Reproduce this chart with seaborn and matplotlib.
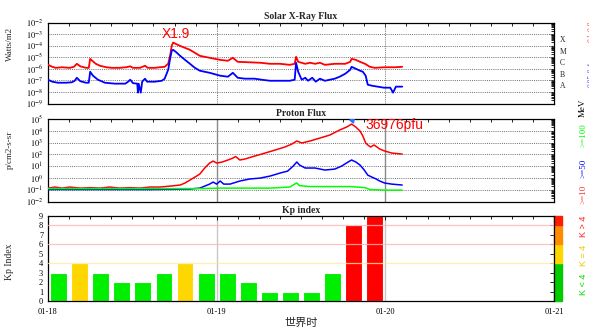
import numpy as np
import pandas as pd
import matplotlib
matplotlib.use("Agg")
import matplotlib.pyplot as plt
import seaborn as sns
from matplotlib.ticker import FixedLocator, LogLocator, NullFormatter, MultipleLocator, FuncFormatter
from matplotlib.transforms import Bbox, TransformedBbox, blended_transform_factory
from matplotlib.patches import Rectangle

# ---------------- data (hours since 01-18 00:00 UT) ----------------
xray_long_hours = [0.0, 0.6, 1.1, 2.0, 3.1, 3.7, 4.1, 4.6, 5.4, 5.8, 6.0, 6.3, 6.8, 7.4, 8.3, 9.1, 10.2, 11.1,
                   11.7, 12.1, 13.1, 13.8, 14.2, 15.2, 15.9, 16.6, 17.1, 17.4, 17.6, 17.8, 18.2, 18.8, 19.5,
                   20.2, 20.9, 21.6, 23.0, 24.5, 25.6, 26.3, 27.0, 28.7, 30.2, 31.6, 33.0, 34.4, 35.1, 35.3,
                   35.6, 36.6, 37.3, 38.0, 38.7, 39.4, 40.8, 42.3, 43.0, 43.2, 43.8, 44.4, 45.1, 45.8, 46.5,
                   47.9, 49.4, 50.4]
xray_long_log = [-5.65, -5.82, -5.91, -5.86, -5.91, -5.82, -5.56, -5.78, -5.91, -5.91, -5.13, -5.30, -5.56,
                 -5.73, -5.86, -5.91, -5.91, -5.86, -5.78, -5.91, -5.91, -5.73, -5.91, -5.91, -5.86, -5.82,
                 -5.56, -4.78, -4.01, -3.72, -3.84, -4.01, -4.18, -4.35, -4.61, -4.87, -5.04, -5.22, -5.30,
                 -5.04, -5.39, -5.43, -5.47, -5.56, -5.56, -5.65, -5.56, -4.96, -5.39, -5.56, -5.47, -5.56,
                 -5.47, -5.65, -5.56, -5.56, -5.39, -5.13, -5.22, -5.39, -5.56, -5.82, -5.91, -5.86, -5.86,
                 -5.82]

xray_short_hours = [0.0, 0.6, 1.4, 2.6, 3.4, 3.8, 4.1, 4.6, 5.4, 5.8, 6.0, 6.4, 7.1, 8.1, 9.5, 11.0, 11.4,
                    11.7, 12.1, 12.7, 12.8, 12.9, 13.2, 13.4, 13.8, 14.1, 15.2, 16.2, 16.6, 17.1, 17.4, 17.6,
                    17.8, 18.2, 18.8, 19.5, 20.2, 20.9, 21.6, 23.0, 24.5, 25.6, 26.3, 27.0, 28.0, 29.4, 30.4,
                    31.6, 33.0, 34.4, 35.1, 35.3, 35.6, 36.1, 36.6, 37.0, 37.6, 38.1, 38.7, 39.4, 40.1, 40.8,
                    41.5, 42.3, 43.0, 43.2, 43.8, 44.4, 44.8, 45.2, 45.5, 46.1, 46.9, 47.8, 48.7, 49.1, 49.5,
                    50.4]
xray_short_log = [-6.94, -7.11, -7.20, -7.20, -7.16, -7.03, -6.77, -7.07, -7.20, -7.20, -6.25, -6.59, -6.94,
                  -7.20, -7.28, -7.28, -7.11, -6.94, -7.24, -7.28, -8.06, -7.28, -8.06, -7.11, -6.85, -7.11,
                  -7.11, -7.03, -6.85, -6.08, -5.04, -4.44, -4.35, -4.53, -4.87, -5.22, -5.56, -5.91, -6.16,
                  -6.34, -6.59, -6.68, -6.34, -6.77, -6.85, -6.85, -6.94, -7.03, -7.03, -7.03, -6.94, -5.47,
                  -6.25, -6.94, -6.77, -7.03, -6.77, -7.11, -6.85, -7.03, -6.94, -6.85, -6.68, -6.42, -6.08,
                  -5.82, -5.99, -6.16, -6.25, -6.59, -7.37, -7.46, -7.54, -7.63, -7.63, -8.06, -7.54, -7.54]

p10_hours = [0.0, 1.0, 2.0, 3.1, 4.6, 6.0, 7.4, 8.8, 10.2, 11.7, 13.1, 14.5, 15.9, 17.4, 18.8, 19.5, 20.2,
             20.9, 21.6, 22.3, 23.0, 23.5, 24.0, 24.8, 25.6, 26.3, 26.7, 27.3, 28.0, 29.4, 30.9, 32.3, 33.7,
             34.7, 35.4, 36.1, 37.3, 38.7, 40.1, 41.5, 42.5, 43.2, 43.8, 44.4, 44.8, 45.2, 45.5, 45.9, 46.4,
             46.8, 47.2, 47.9, 48.9, 50.4]
p10_log = [-0.85, -0.76, -0.85, -0.76, -0.85, -0.81, -0.85, -0.76, -0.85, -0.81, -0.85, -0.76, -0.76, -0.68,
           -0.59, -0.42, -0.17, 0.08, 0.34, 0.85, 1.27, 1.44, 1.27, 1.36, 1.53, 1.69, 1.82, 1.53, 1.61, 1.86,
           2.12, 2.37, 2.63, 2.88, 3.14, 2.97, 3.14, 3.39, 3.64, 4.07, 4.32, 4.568, 4.32, 3.98, 3.56, 2.97,
           2.80, 2.63, 2.80, 2.63, 2.46, 2.29, 2.12, 2.03]

p50_hours = [0.0, 7.4, 14.5, 20.2, 21.6, 22.3, 23.0, 23.5, 24.0, 24.5, 25.0, 25.9, 27.3, 28.7, 30.2, 31.6,
             33.0, 34.1, 34.9, 35.4, 35.8, 36.6, 38.0, 39.4, 40.8, 41.8, 42.7, 43.2, 43.8, 44.4, 45.0, 45.5,
             46.1, 46.7, 47.2, 47.9, 48.9, 50.4]
p50_log = [-0.97, -0.97, -0.97, -0.93, -0.85, -0.68, -0.51, -0.34, -0.51, -0.25, -0.51, -0.51, -0.25, -0.08,
           0.0, 0.17, 0.42, 0.59, 1.02, 1.36, 1.10, 0.85, 0.85, 0.68, 0.76, 1.02, 1.36, 1.53, 1.36, 1.10,
           0.68, 0.25, 0.08, -0.08, -0.25, -0.42, -0.51, -0.59]

p100_hours = [0.0, 4.6, 10.2, 15.9, 21.6, 24.5, 27.3, 31.6, 34.4, 35.1, 35.4, 35.8, 37.3, 40.1, 43.0, 45.1,
              45.8, 47.9, 50.4]
p100_log = [-0.89, -0.89, -0.89, -0.89, -0.89, -0.85, -0.85, -0.85, -0.76, -0.51, -0.42, -0.64, -0.72,
            -0.72, -0.72, -0.81, -0.97, -1.02, -1.02]

kp_hours = [1.5, 4.5, 7.5, 10.5, 13.5, 16.5, 19.5, 22.5, 25.5, 28.5, 31.5, 34.5, 37.5, 40.5, 43.5, 46.5]
kp_values = [3, 4, 3, 2, 2, 3, 4, 3, 3, 2, 1, 1, 1, 3, 8, 9]

day_ticks = [0, 24, 48, 72]
day_labels = ["01-18", "01-19", "01-20", "01-21"]
xray_classes = ["X", "M", "C", "B", "A"]
xray_class_levels = [-3.5, -4.5, -5.5, -6.5, -7.5]
xray_peak_label = "X1.9"
proton_peak_label = "36976pfu"

# ---------------- style ----------------
sns.set_style("white")
plt.rcParams['font.family'] = ['Liberation Serif', 'Noto Sans CJK SC', 'DejaVu Sans']
plt.rcParams['mathtext.fontset'] = 'stix'

fig = plt.figure(figsize=(6.05, 3.32), dpi=100)
FW, FH = 605.0, 332.0
L, W = 48 / FW, 506 / FW


def box(top, bot):
    return [L, 1 - bot / FH, W, (bot - top) / FH]


ax1 = fig.add_axes(box(22.7, 103.5))
ax2 = fig.add_axes(box(119, 201.7))
ax3 = fig.add_axes(box(216, 301))

RED, BLUE, GREEN = "#FF0000", "#0000FF", "#00FF00"


def common(ax):
    ax.set_xlim(0, 72)
    ax.xaxis.set_major_locator(FixedLocator(day_ticks))
    ax.xaxis.set_minor_locator(MultipleLocator(3))
    ax.tick_params(which='both', direction='in', top=True, right=True, width=0.6, labelsize=6, colors='black')
    ax.tick_params(which='major', length=3)
    ax.tick_params(which='minor', length=2)
    for s in ax.spines.values():
        s.set_color('black')
        s.set_linewidth(0.9)
    ax.set_xlabel("")
    ax.set_ylabel("")


def logfmt(v, pos):
    return r"$10^{%d}$" % int(round(np.log10(v)))


# ---------------- X-ray panel ----------------
ax1.set_yscale('log')
xr_l = pd.DataFrame({"h": xray_long_hours, "flux": np.power(10.0, xray_long_log)})
xr_s = pd.DataFrame({"h": xray_short_hours, "flux": np.power(10.0, xray_short_log)})
sns.lineplot(data=xr_l, x="h", y="flux", color=RED, lw=1.3, ax=ax1, zorder=3)
sns.lineplot(data=xr_s, x="h", y="flux", color=BLUE, lw=1.3, ax=ax1, zorder=3)
ax1.set_ylim(1e-9, 1e-2)
common(ax1)
ax1.yaxis.set_major_locator(FixedLocator([10.0 ** k for k in range(-9, -1)]))
ax1.yaxis.set_major_formatter(FuncFormatter(logfmt))
ax1.yaxis.set_minor_locator(LogLocator(base=10, subs=np.arange(2, 10), numticks=50))
ax1.yaxis.set_minor_formatter(NullFormatter())
ax1.set_xticklabels([])
for k in range(-8, -2):
    ax1.axhline(10.0 ** k, color='#707070', lw=0.7, ls=(0, (1, 1.2)), zorder=1)
for d in [24, 48]:
    ax1.axvline(d, color='#707070', lw=0.7, ls=(0, (1, 1.2)), zorder=1)
ax1.set_title("Solar X-Ray Flux", fontsize=7, fontweight='bold', pad=2.5)
trans1 = blended_transform_factory(ax1.transAxes, ax1.transData)
for c, lv in zip(xray_classes, xray_class_levels):
    ax1.text(1.012, 10.0 ** lv, c, transform=trans1, fontsize=5.5, va='center', ha='left')
pk = int(np.argmax(xray_long_log))
ax1.text(xray_long_hours[pk] - 1.6, 10.0 ** (xray_long_log[pk] + 0.75), xray_peak_label,
         color=RED, fontsize=10, family=['Liberation Sans'], ha='left', va='center')
fig.text(10 / FW, 1 - 44 / FH, "Watts/m2", rotation=90, fontsize=6.5, ha='center', va='center')

# clipped right-edge wavelength labels (mostly cut off in the reference)
clip = TransformedBbox(Bbox([[0, 0], [588.5 / FW, 1]]), fig.transFigure)
for txt, col, yc in [("0.1-0.8nm", "#FF5050", 26), ("0.05-0.4nm", "#5050FF", 69)]:
    t = fig.text(591.5 / FW, 1 - yc / FH, txt, rotation=90, color=col, fontsize=5.5, ha='center', va='center')
    t.set_clip_box(clip)
    t.set_clip_on(True)

# ---------------- Proton panel ----------------
ax2.set_yscale('log')
for hrs, lg, col in [(p10_hours, p10_log, RED), (p50_hours, p50_log, BLUE), (p100_hours, p100_log, GREEN)]:
    df = pd.DataFrame({"h": hrs, "flux": np.power(10.0, lg)})
    sns.lineplot(data=df, x="h", y="flux", color=col, lw=1.1, ax=ax2, zorder=3)
ax2.set_ylim(1e-2, 1e5)
common(ax2)
ax2.yaxis.set_major_locator(FixedLocator([10.0 ** k for k in range(-2, 6)]))
ax2.yaxis.set_major_formatter(FuncFormatter(logfmt))
ax2.yaxis.set_minor_locator(LogLocator(base=10, subs=np.arange(2, 10), numticks=50))
ax2.yaxis.set_minor_formatter(NullFormatter())
ax2.set_xticklabels([])
for k in range(-1, 5):
    ax2.axhline(10.0 ** k, color='#707070', lw=0.7, ls=(0, (1, 1.2)), zorder=1)
for d in [24, 48]:
    ax2.axvline(d, color='#8a8a8a', lw=1.0, zorder=1)
ax2.set_title("Proton Flux", fontsize=7, fontweight='bold', pad=2.5)
ppk = int(np.argmax(p10_log))
ax2.plot([p10_hours[ppk]], [10.0 ** (p10_log[ppk] + 0.35)], marker=(3, 0, 200), color='#3070FF', ms=4, zorder=4)
ax2.text(p10_hours[ppk] + 1.9, 10.0 ** (p10_log[ppk] - 0.05), proton_peak_label, color=RED, fontsize=10,
         family=['Liberation Sans'], ha='left', va='center')
fig.text(10 / FW, 1 - 150 / FH, "p/cm2-s-sr", rotation=90, fontsize=6.5, ha='center', va='center')
for txt, col, yc in [("MeV", "black", 108), (">=100", GREEN, 135), (">=50", BLUE, 168), (">=10", "#FF3030", 194)]:
    fig.text(583 / FW, 1 - yc / FH, txt, rotation=90, color=col, fontsize=6.5, ha='center', va='center')

# ---------------- Kp panel ----------------
kp_level = ["low" if v < 4 else ("mid" if v == 4 else "high") for v in kp_values]
kdf = pd.DataFrame({"h": kp_hours, "kp": kp_values, "level": kp_level})
pal = {"low": "#00EE00", "mid": "#FFD700", "high": "#FF0000"}
for lv, col in [(8, '#FFB3B3'), (6, '#FFB3B3'), (4, '#FFE9A0')]:
    ax3.axhline(lv, color=col, lw=0.9, zorder=5, alpha=0.8)
for d in [24, 48]:
    ax3.axvline(d, color='#C8C8C8', lw=1.0, zorder=0.5)
sns.barplot(data=kdf, x="h", y="kp", hue="level", palette=pal, native_scale=True, width=0.8, dodge=False,
            edgecolor='white', linewidth=0.8, legend=False, ax=ax3, zorder=2, saturation=1)
ax3.set_ylim(0, 9)
common(ax3)
ax3.yaxis.set_major_locator(FixedLocator(range(0, 10)))
ax3.yaxis.set_minor_locator(FixedLocator([]))
ax3.set_xticks(day_ticks)
ax3.set_xticklabels(day_labels, fontsize=6)
ax3.tick_params(axis='x', which='major', pad=5)
ax3.set_title("Kp index", fontsize=7, fontweight='bold', pad=2.5)
ax3.set_xlabel("世界时", fontsize=8, family=['Noto Sans CJK SC'], labelpad=1)
fig.text(10 / FW, 1 - 262 / FH, "Kp Index", rotation=90, fontsize=7, ha='center', va='center')

trans3 = blended_transform_factory(ax3.transAxes, ax3.transData)
for y0, h, col in [(0, 4, '#00CC00'), (4, 2, '#FFD700'), (6, 2, '#FF8C00'), (8, 1, '#FF1A00')]:
    ax3.add_patch(Rectangle((1.0, y0), 14 / 506 * 0.55, h, transform=trans3, color=col, clip_on=False, zorder=1))
for txt, col, yc in [("K > 4", "#FF2020", 226), ("K = 4", "#F5C800", 255), ("K < 4", "#00DD00", 284)]:
    fig.text(583 / FW, 1 - yc / FH, txt, rotation=90, color=col, fontsize=6.5, family=['Liberation Sans'],
             ha='center', va='center')

fig.savefig("out.png", dpi=100)
